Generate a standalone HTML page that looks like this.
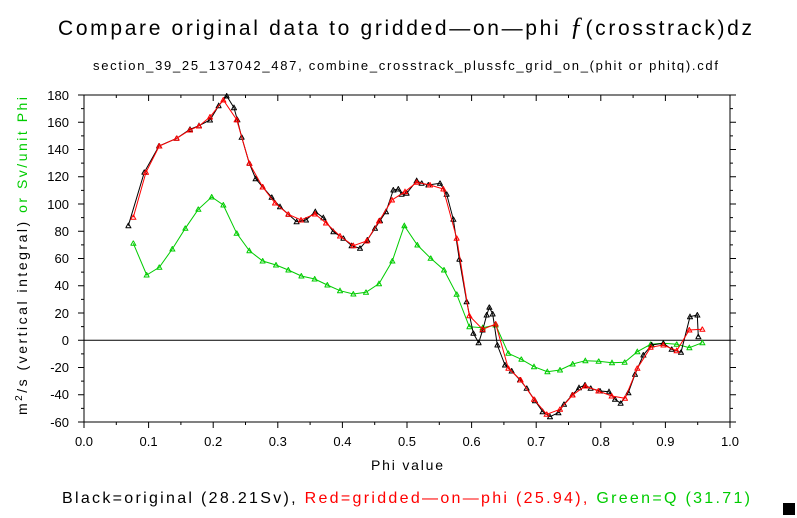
<!DOCTYPE html>
<html><head><meta charset="utf-8"><style>
body{margin:0;background:#fff;}
svg{display:block;font-family:"Liberation Sans",sans-serif;}
</style></head><body>
<svg width="797" height="518" viewBox="0 0 797 518" xmlns="http://www.w3.org/2000/svg">
<defs>
<marker id="mb" viewBox="-3 -3 6 6" markerWidth="6" markerHeight="6" markerUnits="userSpaceOnUse"><polygon points="0,-2.5 2.5,2 -2.5,2" fill="none" stroke="#000" stroke-width="1"/></marker>
<marker id="mr" viewBox="-3 -3 6 6" markerWidth="6" markerHeight="6" markerUnits="userSpaceOnUse"><polygon points="0,-2.5 2.5,2 -2.5,2" fill="none" stroke="#f00" stroke-width="1"/></marker>
<marker id="mg" viewBox="-3 -3 6 6" markerWidth="6" markerHeight="6" markerUnits="userSpaceOnUse"><polygon points="0,-2.5 2.5,2 -2.5,2" fill="none" stroke="#0c0" stroke-width="1"/></marker>
</defs>
<text x="58" y="35" font-size="21" textLength="694" lengthAdjust="spacing" fill="#000">Compare original data to gridded—on—phi <tspan font-family="Liberation Serif" font-style="italic" font-size="26">ƒ</tspan>(crosstrack)dz</text>
<text x="93" y="70" font-size="13" textLength="625" lengthAdjust="spacing" fill="#000">section_39_25_137042_487, combine_crosstrack_plussfc_grid_on_(phit or phitq).cdf</text>
<rect x="84" y="95" width="646" height="327" fill="none" stroke="#000" stroke-width="1"/>
<line x1="84" y1="340.2" x2="730" y2="340.2" stroke="#000" stroke-width="1"/>
<g stroke="#000" stroke-width="1">
<path d="M84 422v6M148.6 422v6M213.2 422v6M277.8 422v6M342.4 422v6M407 422v6M471.6 422v6M536.2 422v6M600.8 422v6M665.4 422v6M730 422v6
M116.3 422v3M180.9 422v3M245.5 422v3M310.1 422v3M374.7 422v3M439.3 422v3M503.9 422v3M568.5 422v3M633.1 422v3M697.7 422v3
M84 95v6M148.6 95v6M213.2 95v6M277.8 95v6M342.4 95v6M407 95v6M471.6 95v6M536.2 95v6M600.8 95v6M665.4 95v6M730 95v6
M116.3 95v3M180.9 95v3M245.5 95v3M310.1 95v3M374.7 95v3M439.3 95v3M503.9 95v3M568.5 95v3M633.1 95v3M697.7 95v3"/>
<path d="M84 95h-6M84 122.25h-6M84 149.5h-6M84 176.75h-6M84 204h-6M84 231.25h-6M84 258.5h-6M84 285.75h-6M84 313h-6M84 340.25h-6M84 367.5h-6M84 394.75h-6M84 422h-6
M84 108.6h-3M84 135.9h-3M84 163.1h-3M84 190.4h-3M84 217.6h-3M84 244.9h-3M84 272.1h-3M84 299.4h-3M84 326.6h-3M84 353.9h-3M84 381.1h-3M84 408.4h-3
M730 95h6M730 122.25h6M730 149.5h6M730 176.75h6M730 204h6M730 231.25h6M730 258.5h6M730 285.75h6M730 313h6M730 340.25h6M730 367.5h6M730 394.75h6M730 422h6
M730 108.6h3M730 135.9h3M730 163.1h3M730 190.4h3M730 217.6h3M730 244.9h3M730 272.1h3M730 299.4h3M730 326.6h3M730 353.9h3M730 381.1h3M730 408.4h3"/>
</g>
<g font-size="13" fill="#000" text-anchor="end">
<text x="69" y="100">180</text><text x="69" y="127">160</text><text x="69" y="154">140</text><text x="69" y="181">120</text><text x="69" y="209">100</text><text x="69" y="236">80</text><text x="69" y="263">60</text><text x="69" y="290">40</text><text x="69" y="318">20</text><text x="69" y="345">0</text><text x="69" y="372">-20</text><text x="69" y="399">-40</text><text x="69" y="427">-60</text>
</g>
<g font-size="13" fill="#000" text-anchor="middle">
<text x="84" y="446">0.0</text><text x="148.6" y="446">0.1</text><text x="213.2" y="446">0.2</text><text x="277.8" y="446">0.3</text><text x="342.4" y="446">0.4</text><text x="407" y="446">0.5</text><text x="471.6" y="446">0.6</text><text x="536.2" y="446">0.7</text><text x="600.8" y="446">0.8</text><text x="665.4" y="446">0.9</text><text x="730" y="446">1.0</text>
<text x="407" y="470" font-size="14" textLength="72" lengthAdjust="spacing">Phi value</text>
</g>
<text transform="translate(27,415) rotate(-90)" font-size="14" textLength="318" lengthAdjust="spacing" fill="#000">m<tspan dy="-5" font-size="10">2</tspan><tspan dy="5">/s (vertical integral)</tspan><tspan fill="#0c0"> or Sv/unit Phi</tspan></text>
<polyline fill="none" stroke="#0c0" stroke-width="1" marker-start="url(#mg)" marker-mid="url(#mg)" marker-end="url(#mg)" points="133.3,243.3 146.7,275 159.3,267.3 172.3,249 185.3,228.3 198.3,209.3 211.7,197 223.3,205 236.7,233.3 249.3,250.7 262.7,261 276,265 288.3,270 301.3,276 314.7,279 327.3,285 340,290.7 353.3,294 366,292.3 379,283.7 392.3,261 404.3,225.7 417.3,245 430.7,258.3 444,270 456.7,294.3 469.3,326.7 482.7,327.7 495.7,325 508.3,353.3 521.3,359.3 534,366.7 547.3,371.7 560,370 572.7,364 585.3,360.7 598.7,361.3 612,362.7 624.7,362.3 637.3,351.7 650.7,344.3 663.3,343.3 676.7,344.3 689.3,347.7 702.3,342.7"/>
<polyline fill="none" stroke="#000" stroke-width="1" marker-start="url(#mb)" marker-mid="url(#mb)" marker-end="url(#mb)" points="128.3,225.7 144.3,172.3 159,146 176.7,138.3 190,129.3 199,125.7 210,120 218.7,105.7 226.7,96 234,107.7 237.3,119.7 241.7,137.3 249.3,163.3 255.7,178.7 262.7,187 271.7,197.3 280,206.7 288.3,214.3 296.7,221.7 306,220 315.3,211.7 323.3,217.7 333.3,231.7 343.3,238.3 351.7,245.7 360,248.3 367.3,240 375,228.3 380,220.7 386,211.7 393.3,190 398.3,189 401.7,194.3 406.7,193.3 416.7,180.7 421.7,183.3 428.3,185 440,183.3 446.7,194.3 453.3,219.3 459.3,259.3 466.7,301.7 473.3,333.3 478.7,342.7 482.7,330 486.7,315 489.3,307.3 492.7,314 497.3,345 505,365 511.7,371 520,380 526.7,388.3 535,400.7 542.7,411.7 550,416.7 558.3,412.7 564,404.3 572.3,395 579,387.7 585,385 590.7,388.3 600,391 609,391.7 615,399.3 620.7,403.3 628.3,392.7 635,374.3 643.3,355 651.7,345 663.3,343.3 671.7,349.3 681,352.3 690,316.7 697.3,315 698.3,336.7"/>
<polyline fill="none" stroke="#f00" stroke-width="1" marker-start="url(#mr)" marker-mid="url(#mr)" marker-end="url(#mr)" points="133.3,217.3 146,172.3 159.3,146 176.7,138.3 190,130 199,126 210,117 223.3,100 236.7,119.7 249.3,163.3 262.7,187 275,203 288.3,214.3 301,220 315,214 326,223 340,236 353.3,245.7 366.7,241 379,221 392,200 405,191.7 416.7,182.3 430,185 443.3,189 456.7,238.3 469.3,315.7 482.7,329.3 495.7,324 508.3,368.3 520.7,380 534,399.3 546.7,414.3 560,409.3 572.7,395 585.3,386 598.3,391 611.7,396 625,398.3 637.3,368.3 650.7,347.3 663.3,345 676.7,350.7 689.3,330 702.3,329.3"/>
<text x="62" y="503" font-size="16" textLength="688" lengthAdjust="spacing"><tspan fill="#000">Black=original (28.21Sv), </tspan><tspan fill="#f00">Red=gridded—on—phi (25.94), </tspan><tspan fill="#0c0">Green=Q (31.71)</tspan></text>
<rect x="783" y="503" width="12" height="12" fill="#000"/>
</svg>
</body></html>
